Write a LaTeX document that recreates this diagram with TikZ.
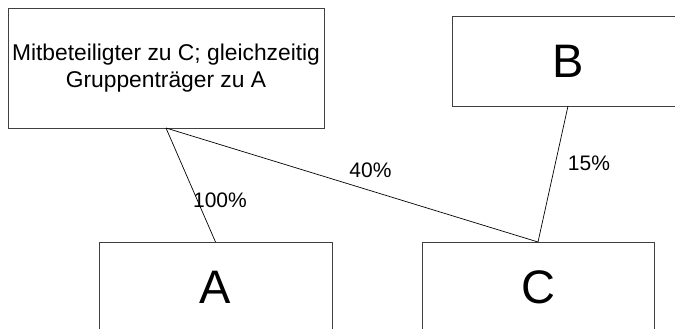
\documentclass[tikz,border=0pt]{standalone}
\usepackage{fontspec}
\setmainfont{Liberation Sans}
\begin{document}
\begin{tikzpicture}[x=1pt,y=-1pt,
  box/.style={draw=black!75,line width=0.8pt,inner sep=0pt,outer sep=0pt,fill=white},
  conn/.style={draw=black,line width=0.7pt},
  lbl/.style={font=\fontsize{21}{24}\selectfont,inner sep=0pt}]
\useasboundingbox (0,0) rectangle (675,329);
\clip (0,0) rectangle (675,329);
\node[box,minimum width=316pt,minimum height=120pt,align=center,
  font=\fontsize{22.8}{26.5}\selectfont] (top) at (166,68)
  {Mitbeteiligter zu C; gleichzeitig\\Gruppenträger zu A};
\node[box,minimum width=232pt,minimum height=90pt,font=\fontsize{47}{50}\selectfont] (b) at (568,61) {B};
\node[box,minimum width=233pt,minimum height=90pt,font=\fontsize{47}{50}\selectfont] (a) at (215.5,287) {A};
\node[box,minimum width=232pt,minimum height=90pt,font=\fontsize{47}{50}\selectfont] (c) at (538,287) {C};
\draw[conn] (top.south) -- (a.north);
\draw[conn] (top.south) -- (c.north);
\draw[conn] (b.south) -- (c.north);
\node[lbl] (l100) at (220,200) {100\%};
\node[lbl] (l40) at (370.5,170.5) {40\%};
\node[lbl] (l15) at (589,163.5) {15\%};
\end{tikzpicture}
\end{document}
